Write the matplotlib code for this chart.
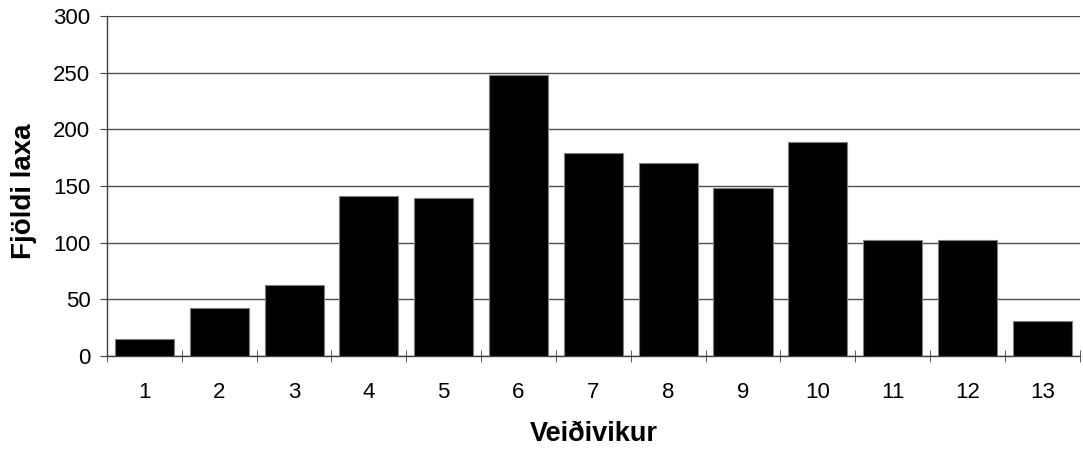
import matplotlib.pyplot as plt
import numpy as np

plt.rcParams['font.family'] = ['Liberation Sans', 'DejaVu Sans']

weeks = [str(i) for i in range(1, 14)]
counts = [15, 42, 63, 141, 139, 248, 179, 170, 148, 189, 102, 102, 31]

fig = plt.figure(figsize=(10.83, 4.51), dpi=100)
ax = fig.add_axes([0.0988, 0.2106, 0.8982, 0.7539])

x = np.arange(1, len(weeks) + 1)
ax.bar(x, counts, width=0.79, color='black', edgecolor='#808080', linewidth=0.8, zorder=3)

ax.set_xlim(0.5, len(weeks) + 0.5)
ax.set_ylim(0, 300)
ax.set_yticks(range(0, 301, 50))
ax.set_xticks(x)
ax.set_xticklabels(weeks)
ax.set_xticks(np.arange(0.5, len(weeks) + 1, 1), minor=True)

ax.grid(axis='y', color='#505050', linewidth=1.0, zorder=0)
ax.tick_params(axis='x', which='major', length=0, pad=18.7, labelsize=16)
ax.tick_params(axis='x', which='minor', direction='inout', length=9, color='#404040')
ax.tick_params(axis='y', direction='out', length=5, labelsize=16, color='#404040', pad=7)

for s in ['top', 'right']:
    ax.spines[s].set_visible(False)
for s in ['left', 'bottom']:
    ax.spines[s].set_color('#404040')
    ax.spines[s].set_linewidth(1.0)

ax.set_xlabel('Veiðivikur', fontsize=19.5, fontweight='bold')
ax.set_ylabel('Fjöldi laxa', fontsize=20, fontweight='bold')
ax.xaxis.set_label_coords(0.5, -0.19)
ax.yaxis.set_label_coords(-0.072, 0.485)

fig.savefig('out.png', dpi=100)
